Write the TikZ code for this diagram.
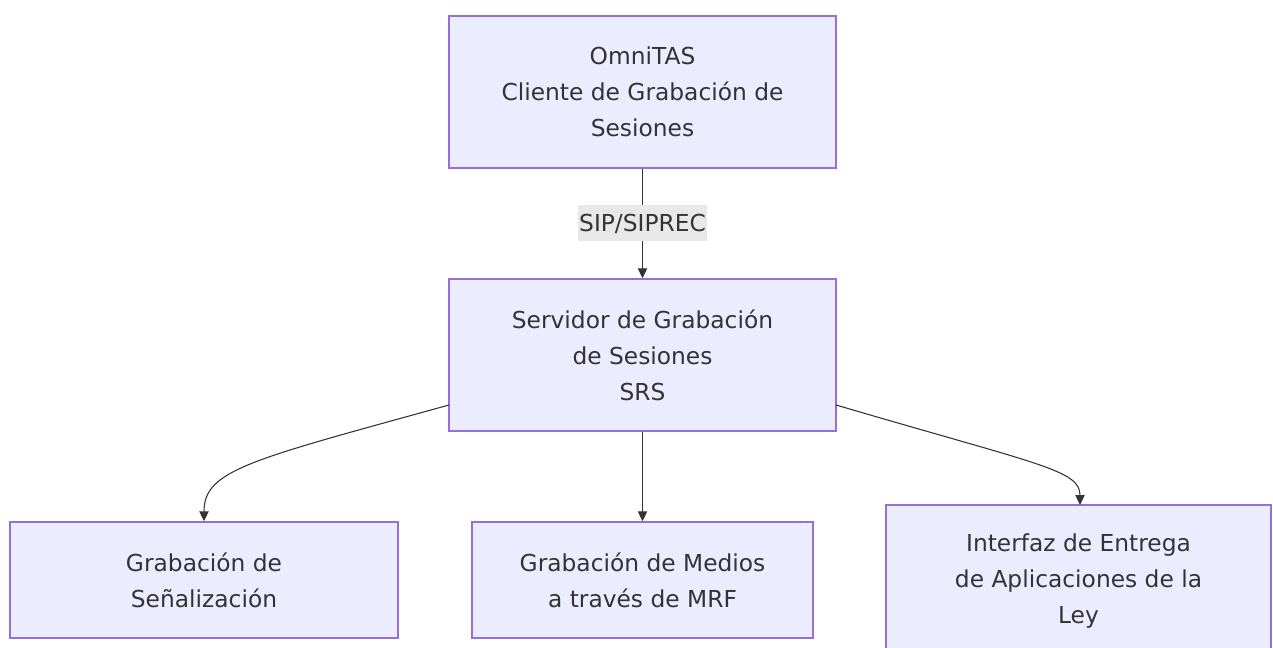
\documentclass[tikz,border=0pt]{standalone}
\usepackage{fontspec}
\setmainfont{DejaVu Sans}
\usetikzlibrary{arrows.meta}
\definecolor{boxfill}{HTML}{ECECFF}
\definecolor{boxline}{HTML}{9370DB}
\definecolor{txt}{HTML}{333333}
\definecolor{lblbg}{HTML}{E8E8E8}
\tikzset{
  box/.style={draw=boxline, fill=boxfill, line width=1.1pt, text=txt, align=center,
    font=\fontsize{17.5}{27}\selectfont, inner sep=0pt},
  conn/.style={draw=txt, line width=0.8pt, -{Triangle[length=7.5pt,width=7pt]}},
  lbl/.style={fill=lblbg, text=txt, font=\fontsize{17.5}{20}\selectfont, inner xsep=1pt, inner ysep=0pt, minimum height=27pt}
}
\begin{document}
\begin{tikzpicture}[x=0.75pt,y=-0.75pt]
\useasboundingbox (0,0) rectangle (1273,648);
\clip (0,0) rectangle (1273,648);
\fill[white] (0,0) rectangle (1273,648);
\node[box, minimum width=387*0.75pt, minimum height=152*0.75pt] (omni) at (642.5,92) {OmniTAS\\Cliente de Grabación de\\Sesiones};
\node[box, minimum width=387*0.75pt, minimum height=152*0.75pt] (srs) at (642.5,355) {Servidor de Grabación\\de Sesiones\\SRS};
\node[box, minimum width=388*0.75pt, minimum height=116*0.75pt] (sig) at (204,580) {Grabación de\\Señalización};
\node[box, minimum width=341*0.75pt, minimum height=116*0.75pt] (med) at (642.5,580) {Grabación de Medios\\a través de MRF};
\node[box, minimum width=385*0.75pt, minimum height=152*0.75pt] (ley) at (1078.5,581) {Interfaz de Entrega\\de Aplicaciones de la\\Ley};
\draw[conn] (omni.south) -- node[lbl] {SIP/SIPREC} (srs.north);
\draw[conn] (srs.south) -- (med.north);
\coordinate (sl) at (449,405);
\coordinate (sr) at (836,405);
\draw[conn] (sl) .. controls (250,460) and (204,470) .. (sig.north);
\draw[conn] (sr) .. controls (1040,465) and (1080,470) .. (1080,505);
\end{tikzpicture}
\end{document}
